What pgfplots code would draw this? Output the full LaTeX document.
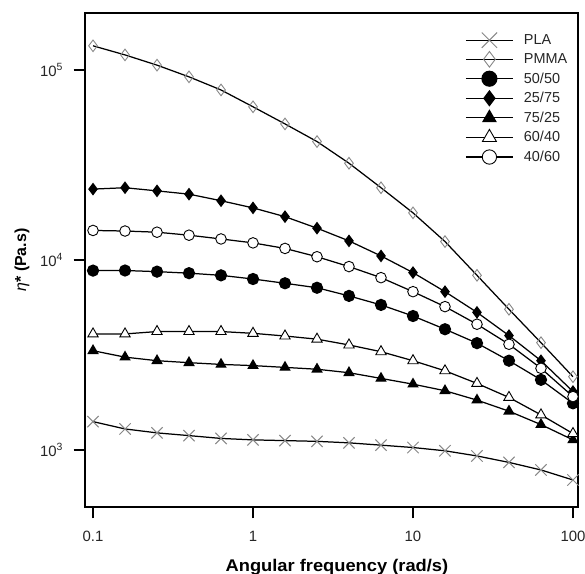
\documentclass[border=0pt]{standalone}
\usepackage{pgfplots}
\usepackage{pgfplotstable}
\pgfplotsset{compat=1.18}
\usepackage{fontspec}
\setmainfont{Liberation Sans}
\definecolor{mgray}{RGB}{135,135,135}

\pgfplotstableread{
w       PLA   PMMA    b5050  b2575  b7525  b6040  b4060
0.1     1410  134000  8790   23600  3330   4080   14300
0.1585  1290  120000  8800   24000  3080   4080   14200
0.2512  1230  106000  8680   23100  2950   4200   14000
0.3981  1190  92000   8520   22200  2880   4200   13500
0.631   1150  78500   8300   20500  2820   4200   12900
1       1130  64000   7940   18800  2780   4110   12300
1.585   1120  52000   7540   16900  2720   3980   11500
2.512   1110  42000   7140   14700  2660   3830   10400
3.981   1090  32300   6470   12600  2550   3570   9230
6.31    1060  24000   5800   10500  2380   3290   8070
10      1030  17700   5070   8580   2220   2950   6810
15.85   990   12500   4320   6810   2050   2610   5680
25.12   930   8300    3650   5300   1830   2240   4590
39.81   860   5500    2950   4000   1600   1890   3600
63.1    785   3670    2340   2950   1360   1530   2690
100     695   2430    1760   2030   1130   1220   1910
}\datatable

\begin{document}
\begin{tikzpicture}
\useasboundingbox (-85bp,-67bp) rectangle (500bp,507bp);
\begin{axis}[
  at={(0,0)}, anchor=south west,
  scale only axis, width=493bp, height=494bp,
  xmode=log, ymode=log,
  xmin=0.0891, xmax=107.5,
  ymin=501, ymax=199500,
  xtick={0.1,1,10,100}, xticklabels={0.1,1,10,100},
  ytick={1000,10000,100000},
  yticklabels={10\textsuperscript{3},10\textsuperscript{4},10\textsuperscript{5}},
  xminorticks=false, yminorticks=false,
  xtick pos=left, ytick pos=left,
  tick align=outside, major tick length=11.5bp,
  every tick/.style={black, line width=1.3pt},
  axis line style={line width=1.6pt},
  /pgf/number format/assume math mode=true,
  ticklabel style={font=\fontsize{15}{18}\selectfont, text=black!85},
  xticklabel style={yshift=-9bp},
  yticklabel style={xshift=-7bp},
  xlabel={\scalebox{1.08}[1]{\textbf{Angular frequency (rad/s)}}},
  ylabel={{\itshape η}\textbf{* (Pa.s)}},
  xlabel style={at={(axis description cs:0.511,-0.121)}, anchor=center, font=\fontsize{17}{20}\selectfont},
  ylabel style={at={(axis description cs:-0.128,0.5)}, anchor=center, font=\fontsize{16}{19}\selectfont},
  clip=false,
  legend style={draw=none, fill=none, at={(rel axis cs:0.771,0.961)}, anchor=north west,
    font=\fontsize{14.5}{16}\selectfont, row sep=3.6bp, inner sep=0pt, text=black!85},
  legend cell align=left,
  legend image code/.code={
    \path[draw=none, fill=none] (0bp,0bp) -- (56bp,0bp);
    \draw[mark repeat=2,mark phase=2, every mark/.append style={scale=1.35}] plot coordinates {(0bp,0bp) (23.5bp,0bp) (47bp,0bp)};
  },
]
\addplot[black, line width=1.25pt, mark=x, mark size=8bp, mark options={mgray, line width=1pt}] table[x=w,y=PLA]{\datatable};
\addlegendentry{PLA}
\addplot[black, line width=1.25pt, mark=diamond, mark size=5.8bp, mark options={draw=mgray, fill=white, line width=0.9pt}] table[x=w,y=PMMA]{\datatable};
\addlegendentry{PMMA}
\addplot[black, line width=1.25pt, mark=*, mark size=5.5bp, mark options={fill=black}] table[x=w,y=b5050]{\datatable};
\addlegendentry{50/50}
\addplot[black, line width=1.25pt, mark=diamond*, mark size=5.4bp, mark options={fill=black}] table[x=w,y=b2575]{\datatable};
\addlegendentry{25/75}
\addplot[black, line width=1.25pt, mark=triangle*, mark size=5.4bp, mark options={fill=black}] table[x=w,y=b7525]{\datatable};
\addlegendentry{75/25}
\addplot[black, line width=1.25pt, mark=triangle*, mark size=6bp, mark options={fill=white, line width=0.9pt}] table[x=w,y=b6040]{\datatable};
\addlegendentry{60/40}
\addplot[black, line width=1.25pt, mark=*, mark size=5.3bp, mark options={fill=white, line width=0.9pt}] table[x=w,y=b4060]{\datatable};
\addlegendentry{40/60}
\end{axis}
\end{tikzpicture}
\end{document}
